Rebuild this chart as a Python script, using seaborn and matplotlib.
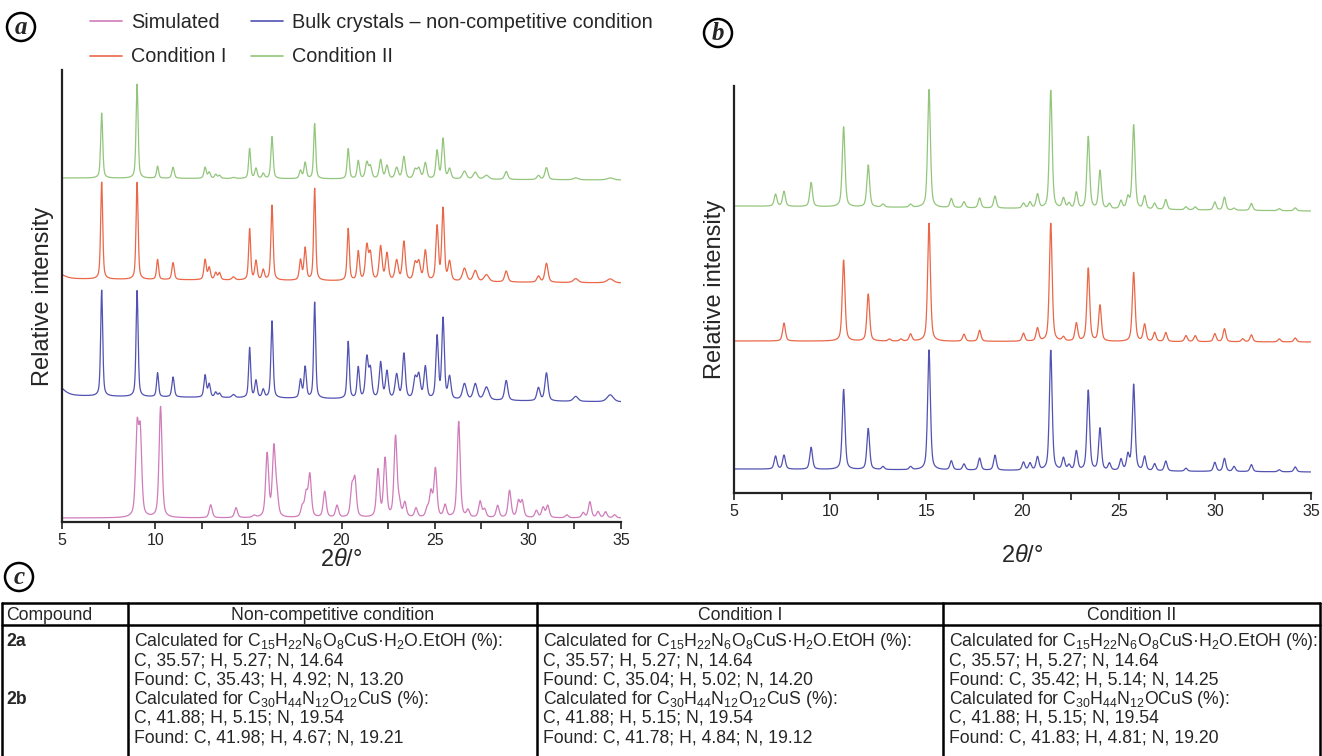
import numpy as np
import pandas as pd
import matplotlib
matplotlib.use("Agg")
import matplotlib.pyplot as plt
from matplotlib.lines import Line2D
from matplotlib.ticker import MultipleLocator
import seaborn as sns

## peak lists (2theta in degrees, heights in px above baseline)
## panel (a): experimental traces share one peak position list
pos_a = [4.6, 7.13, 9.03, 10.13, 10.96, 12.68, 12.9, 13.25, 13.45, 14.2,
         15.07, 15.41, 15.8, 16.27, 17.8, 18.05, 18.56, 20.36, 20.9, 21.36,
         21.55, 22.1, 22.44, 22.96, 23.35, 23.95, 24.15, 24.5, 25.13, 25.45,
         25.8, 26.6, 27.18, 27.78, 28.84, 30.57, 31.0, 32.57, 34.42]
wid_a = [0.9, 0.13, 0.13, 0.13, 0.15, 0.15, 0.15, 0.15, 0.15, 0.2,
         0.13, 0.15, 0.15, 0.14, 0.15, 0.15, 0.13, 0.14, 0.15, 0.18,
         0.18, 0.18, 0.18, 0.2, 0.18, 0.2, 0.2, 0.18, 0.16, 0.16,
         0.18, 0.25, 0.25, 0.3, 0.2, 0.2, 0.2, 0.3, 0.4]
green_a = [0, 65, 94, 12, 11, 11, 6, 4, 3, 1,
           30, 10, 5, 42, 8, 16, 55, 30, 18, 16,
           12, 19, 13, 11, 22, 9, 10, 16, 28, 40,
           10, 8, 7, 4, 8, 4, 12, 2, 2]
red_a = [8, 97, 97, 20, 17, 20, 12, 7, 7, 3,
         51, 19, 10, 75, 20, 32, 92, 52, 29, 34,
         26, 34, 27, 20, 39, 17, 18, 30, 54, 72,
         19, 13, 11, 7, 11, 6, 19, 4, 4]
blue_a = [14, 106, 106, 24, 20, 22, 13, 5, 4, 3,
          50, 17, 8, 77, 18, 31, 96, 57, 31, 40,
          28, 36, 27, 24, 45, 20, 23, 32, 62, 80,
          22, 16, 16, 13, 20, 13, 28, 5, 7]
base_a = {"Condition II": (344, 342), "Condition I": (243, 239),
          "Bulk crystals – non-competitive condition": (126, 120), "Simulated": (4, 4)}

pos_sim = [9.03, 9.2, 10.29, 12.98, 14.34, 15.31, 16.01, 16.37, 16.53, 17.9,
           18.1, 18.3, 19.1, 19.76, 20.56, 20.72, 21.96, 22.34, 22.9, 23.1,
           23.4, 24.0, 24.6, 24.8, 25.04, 25.56, 26.29, 26.79, 27.44, 27.68,
           28.38, 29.02, 29.5, 29.7, 30.46, 30.82, 31.07, 32.09, 32.97, 33.33,
           33.77, 34.17, 34.66]
sim = [85, 80, 111, 13, 10, 2, 63, 68, 20, 10,
       22, 42, 26, 12, 28, 36, 47, 58, 80, 12,
       14, 9, 8, 24, 48, 12, 96, 7, 16, 8,
       12, 27, 16, 16, 7, 10, 12, 3, 5, 16,
       6, 6, 3]

## panel (b)
pos_b = [7.16, 7.6, 9.01, 10.7, 11.98, 12.75, 13.08, 13.68, 14.18, 15.14,
         16.3, 16.96, 17.77, 18.57, 20.05, 20.39, 20.78, 21.47, 22.13, 22.42,
         22.8, 23.42, 24.03, 24.52, 25.12, 25.48, 25.78, 26.35, 26.87, 27.45,
         28.5, 28.98, 30.0, 30.5, 31.0, 31.45, 31.9, 33.35, 34.18]
green_b = [12, 15, 24, 80, 42, 3, 0, 0, 3, 118,
           9, 6, 10, 12, 5, 6, 14, 118, 10, 5,
           16, 72, 38, 5, 8, 11, 84, 13, 6, 10,
           3, 3, 8, 13, 2, 0, 7, 2, 3]
red_b = [0, 18, 0, 81, 47, 0, 2, 2, 7, 118,
         0, 7, 11, 0, 8, 0, 13, 118, 4, 0,
         18, 73, 36, 0, 0, 0, 69, 17, 9, 9,
         6, 6, 8, 13, 0, 3, 7, 3, 4]
blue_b = [13, 14, 22, 80, 41, 3, 0, 0, 3, 120,
          9, 6, 12, 15, 8, 7, 13, 120, 12, 5,
          19, 80, 42, 7, 11, 15, 86, 14, 7, 10,
          3, 0, 9, 13, 5, 0, 7, 2, 5]
base_b = {"Condition II": (287, 282), "Condition I": (152, 151),
          "Bulk crystals – non-competitive condition": (24, 21)}

colors = {"Simulated": "#d07cba", "Condition I": "#ea6748",
          "Bulk crystals – non-competitive condition": "#5252b2",
          "Condition II": "#93c67c"}

## table (c)
tab_head = ["Compound", "Non-competitive condition", "Condition I", "Condition II"]
tab_comp = ["2a", "", "", "2b", "", ""]
calc_2a = "Calculated for C$_{15}$H$_{22}$N$_{6}$O$_{8}$CuS·H$_{2}$O.EtOH (%):"
tab_cols = [
    [calc_2a, "C, 35.57; H, 5.27; N, 14.64", "Found: C, 35.43; H, 4.92; N, 13.20",
     "Calculated for C$_{30}$H$_{44}$N$_{12}$O$_{12}$CuS (%):", "C, 41.88; H, 5.15; N, 19.54",
     "Found: C, 41.98; H, 4.67; N, 19.21"],
    [calc_2a, "C, 35.57; H, 5.27; N, 14.64", "Found: C, 35.04; H, 5.02; N, 14.20",
     "Calculated for C$_{30}$H$_{44}$N$_{12}$O$_{12}$CuS (%):", "C, 41.88; H, 5.15; N, 19.54",
     "Found: C, 41.78; H, 4.84; N, 19.12"],
    [calc_2a, "C, 35.57; H, 5.27; N, 14.64", "Found: C, 35.42; H, 5.14; N, 14.25",
     "Calculated for C$_{30}$H$_{44}$N$_{12}$OCuS (%):", "C, 41.88; H, 5.15; N, 19.54",
     "Found: C, 41.83; H, 4.81; N, 19.20"],
]

tt = np.linspace(5, 35, 3001)


def pattern(pos, hts, wid, b0, b1):
    pos = np.asarray(pos)[:, None]
    hts = np.asarray(hts, float)[:, None]
    hw = np.broadcast_to(np.asarray(wid, float), (len(pos),))[:, None] / 2
    d = (tt[None, :] - pos) / hw
    prof = 0.5 / (1 + d ** 2) + 0.5 * np.exp(-np.log(2) * d ** 2)
    return b0 + (b1 - b0) * (tt - 5) / 30 + (hts * prof).sum(axis=0)


def frame(name, y):
    return pd.DataFrame({"two_theta": tt, "intensity": y, "series": name})


df_a = pd.concat([
    frame("Simulated", pattern(pos_sim, sim, 0.19, *base_a["Simulated"])),
    frame("Bulk crystals – non-competitive condition",
          pattern(pos_a, blue_a, wid_a, *base_a["Bulk crystals – non-competitive condition"])),
    frame("Condition I", pattern(pos_a, red_a, wid_a, *base_a["Condition I"])),
    frame("Condition II", pattern(pos_a, green_a, wid_a, *base_a["Condition II"])),
])
df_b = pd.concat([
    frame("Bulk crystals – non-competitive condition",
          pattern(pos_b, blue_b, 0.17, *base_b["Bulk crystals – non-competitive condition"])),
    frame("Condition I", pattern(pos_b, red_b, 0.17, *base_b["Condition I"])),
    frame("Condition II", pattern(pos_b, green_b, 0.17, *base_b["Condition II"])),
])

sns.set_style("ticks")
plt.rcParams["font.family"] = ["Liberation Sans", "DejaVu Sans"]
plt.rcParams["mathtext.fontset"] = "custom"
plt.rcParams["mathtext.rm"] = "Liberation Sans"
plt.rcParams["mathtext.it"] = "Liberation Sans:italic"
plt.rcParams["mathtext.bf"] = "Liberation Sans:bold"
plt.rcParams["mathtext.default"] = "regular"

W, H = 1322, 756
fig = plt.figure(figsize=(W / 100, H / 100), dpi=100)
ax_a = fig.add_axes([62 / W, 1 - 522 / H, (621 - 62) / W, (522 - 70) / H])
ax_b = fig.add_axes([734 / W, 1 - 493 / H, (1311 - 734) / W, (493 - 86) / H])

sns.lineplot(data=df_a, x="two_theta", y="intensity", hue="series", palette=colors,
             estimator=None, sort=False, legend=False, linewidth=0.9, ax=ax_a)
sns.lineplot(data=df_b, x="two_theta", y="intensity", hue="series", palette=colors,
             estimator=None, sort=False, legend=False, linewidth=0.9, ax=ax_b)

for ax, top, pad in [(ax_a, 452, 0.5), (ax_b, 407, 19)]:
    ax.set_xlim(5, 35)
    ax.set_ylim(0, top)
    ax.set_yticks([])
    ax.xaxis.set_major_locator(MultipleLocator(5))
    ax.xaxis.set_minor_locator(MultipleLocator(2.5))
    ax.tick_params(axis="x", which="both", length=5, width=1.2, direction="out",
                   labelsize=11.5, pad=3, color="#222222")
    for s in ["top", "right"]:
        ax.spines[s].set_visible(False)
    for s in ["left", "bottom"]:
        ax.spines[s].set_linewidth(1.6)
        ax.spines[s].set_color("#222222")
    ax.set_xlabel(r"2$\mathit{\theta}$/°", fontsize=17, labelpad=pad)
    ax.set_ylabel("Relative intensity", fontsize=17, labelpad=6)
    ax.patch.set_alpha(0)

names = ["Simulated", "Condition I", "Bulk crystals – non-competitive condition", "Condition II"]
handles = [Line2D([], [], color=colors[n], lw=1.2) for n in names]
fig.legend(handles, names, loc="upper left", bbox_to_anchor=(90 / W, 1 - 13 / H),
           ncol=2, frameon=False, fontsize=14.3, handlelength=1.6, handletextpad=0.45,
           columnspacing=1.25, labelspacing=0.78, borderaxespad=0, borderpad=0)

# overlay for panel letters and the table, in pixel coordinates
ov = fig.add_axes([0, 0, 1, 1])
ov.set_xlim(0, W)
ov.set_ylim(H, 0)
ov.axis("off")
ov.patch.set_alpha(0)
for letter, x, y in [("a", 21, 27), ("b", 718, 33), ("c", 19, 577)]:
    ov.text(x, y, letter, family="Liberation Serif", style="italic", weight="bold",
            fontsize=18, ha="center", va="center",
            bbox=dict(boxstyle="circle,pad=0.1", fc="white", ec="black", lw=1.8))

col_x = [2, 128, 537, 943, 1320]
top_y, head_y = 603, 625
lw_t = 1.8
ov.plot([col_x[0], col_x[-1]], [top_y, top_y], color="black", lw=lw_t)
ov.plot([col_x[0], col_x[-1]], [head_y, head_y], color="black", lw=lw_t)
for x in col_x:
    ov.plot([x, x], [top_y, H + 2], color="black", lw=lw_t)
fs_t = 12.7
for i, h in enumerate(tab_head):
    if i == 0:
        ov.text(col_x[0] + 4, (top_y + head_y) / 2 + 1, h, fontsize=fs_t, ha="left", va="center")
    else:
        ov.text((col_x[i] + col_x[i + 1]) / 2, (top_y + head_y) / 2 + 1, h,
                fontsize=fs_t, ha="center", va="center")
row_y = [642, 661, 680, 699, 718, 738]
for y, c in zip(row_y, tab_comp):
    if c:
        ov.text(col_x[0] + 4, y, c, fontsize=fs_t, weight="bold", ha="left", va="center")
for j, col in enumerate(tab_cols):
    for y, t in zip(row_y, col):
        ov.text(col_x[j + 1] + 6, y, t, fontsize=fs_t, ha="left", va="center")

fig.savefig("out.png", dpi=100)
